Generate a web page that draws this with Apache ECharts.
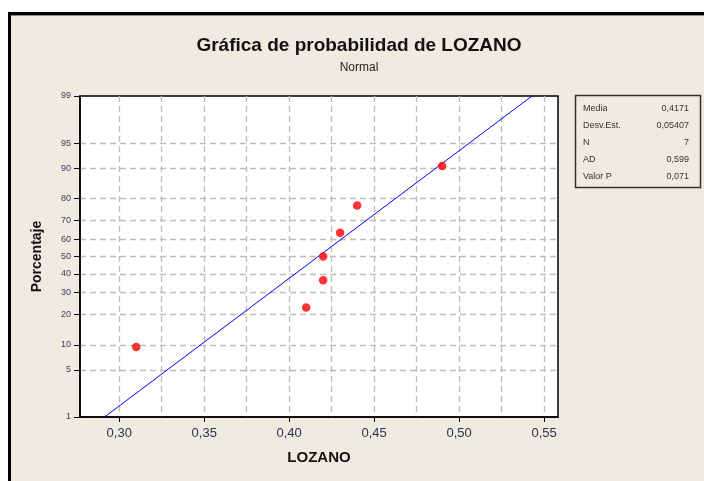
<!DOCTYPE html>
<html>
<head>
<meta charset="utf-8">
<script src="https://cdn.jsdelivr.net/npm/echarts@6/dist/echarts.min.js"></script>
<style>
html,body{margin:0;padding:0;background:#fff;}
#chart{width:704px;height:481px;}
</style>
</head>
<body>
<div id="chart"></div>
<script>
// ---- data ----
var lozano = [0.31, 0.41, 0.42, 0.42, 0.43, 0.44, 0.49];
var percent = [9.5, 23, 36.5, 50, 63.5, 77, 90.5];
var fitX = [0.2913, 0.5429];
var fitP = [1, 99];
var yTicks = [1, 5, 10, 20, 30, 40, 50, 60, 70, 80, 90, 95, 99];
var xTicks = [0.30, 0.35, 0.40, 0.45, 0.50, 0.55];
var xGrid = [0.30, 0.325, 0.35, 0.375, 0.40, 0.425, 0.45, 0.475, 0.50, 0.525, 0.55];
var statNames = ['Media', 'Desv.Est.', 'N', 'AD', 'Valor P'];
var statValues = ['0,4171', '0,05407', '7', '0,599', '0,071'];

// inverse standard normal CDF (probability scale transform)
function probit(p) {
  var a = [-3.969683028665376e+01, 2.209460984245205e+02, -2.759285104469687e+02, 1.383577518672690e+02, -3.066479806614716e+01, 2.506628277459239e+00];
  var b = [-5.447609879822406e+01, 1.615858368580409e+02, -1.556989798598866e+02, 6.680131188771972e+01, -1.328068155288572e+01];
  var c = [-7.784894002430293e-03, -3.223964580411365e-01, -2.400758277161838e+00, -2.549732539343734e+00, 4.374664141464968e+00, 2.938163982698783e+00];
  var d = [7.784695709041462e-03, 3.224671290700398e-01, 2.445134137142996e+00, 3.754408661907416e+00];
  var pl = 0.02425, q, r;
  if (p < pl) {
    q = Math.sqrt(-2 * Math.log(p));
    return (((((c[0]*q+c[1])*q+c[2])*q+c[3])*q+c[4])*q+c[5]) / ((((d[0]*q+d[1])*q+d[2])*q+d[3])*q+1);
  } else if (p <= 1 - pl) {
    q = p - 0.5; r = q*q;
    return (((((a[0]*r+a[1])*r+a[2])*r+a[3])*r+a[4])*r+a[5])*q / (((((b[0]*r+b[1])*r+b[2])*r+b[3])*r+b[4])*r+1);
  } else {
    q = Math.sqrt(-2 * Math.log(1 - p));
    return -(((((c[0]*q+c[1])*q+c[2])*q+c[3])*q+c[4])*q+c[5]) / ((((d[0]*q+d[1])*q+d[2])*q+d[3])*q+1);
  }
}
function z(pct) { return probit(pct / 100); }

var yTickZ = yTicks.map(z);
var yMin = z(yTicks[0]), yMax = z(yTicks[yTicks.length - 1]);
var xMin = 0.2769, xMax = 0.5582;

var points = lozano.map(function (x, i) { return [x, z(percent[i])]; });
var fitLine = fitX.map(function (x, i) { return [x, z(fitP[i])]; });

var font = 'Liberation Sans';
var gridStyle = { color: '#bdbdbd', type: [6, 4], width: 1.3 };

var graphics = [
  { type: 'rect', shape: { x: 0, y: 0, width: 704, height: 12 }, style: { fill: '#fff' }, silent: true },
  { type: 'rect', shape: { x: 0, y: 0, width: 8, height: 481 }, style: { fill: '#fff' }, silent: true },
  { type: 'rect', shape: { x: 8, y: 12, width: 696, height: 3 }, style: { fill: '#000' }, silent: true },
  { type: 'rect', shape: { x: 11, y: 15, width: 693, height: 1 }, style: { fill: '#8a8a8a' }, silent: true },
  { type: 'rect', shape: { x: 8, y: 12, width: 3, height: 469 }, style: { fill: '#000' }, silent: true },
  { type: 'text', x: 359, y: 46, style: { text: 'Gráfica de probabilidad de LOZANO', font: 'bold 19px ' + font, fill: '#111', align: 'center', verticalAlign: 'middle' } },
  { type: 'text', x: 359, y: 68, style: { text: 'Normal', font: '12px ' + font, fill: '#222', align: 'center', verticalAlign: 'middle' } },
  { type: 'rect', shape: { x: 575.5, y: 95.5, width: 125, height: 92 }, style: { fill: 'none', stroke: '#333', lineWidth: 1.5 } }
];
statNames.forEach(function (n, i) {
  graphics.push({ type: 'text', x: 583, y: 109 + i * 17, style: { text: n, font: '9px ' + font, fill: '#333', align: 'left', verticalAlign: 'middle' } });
  graphics.push({ type: 'text', x: 689, y: 109 + i * 17, style: { text: statValues[i], font: '9px ' + font, fill: '#333', align: 'right', verticalAlign: 'middle' } });
});

var chart = echarts.init(document.getElementById('chart'), null, { renderer: 'canvas' });
chart.setOption({
  backgroundColor: '#efebe1',
  animation: false,
  grid: { left: 80, top: 96, right: 146, bottom: 64, show: true, backgroundColor: '#fff', borderColor: '#000', borderWidth: 1.5 },
  xAxis: [
    {
      type: 'value', min: xMin, max: xMax,
      name: 'LOZANO', nameLocation: 'middle', nameGap: 33,
      nameTextStyle: { fontFamily: font, fontWeight: 'bold', fontSize: 15, color: '#111' },
      axisLine: { show: true, onZero: false, lineStyle: { color: '#000', width: 1.5 } },
      axisTick: { show: true, length: 5, customValues: xTicks, lineStyle: { color: '#000' } },
      axisLabel: { customValues: xTicks, margin: 10, fontFamily: font, fontSize: 13, color: '#2a3450',
        formatter: function (v) { return v.toFixed(2).replace('.', ','); } },
      splitLine: { show: false }
    },
    {
      type: 'value', min: xMin, max: xMax, position: 'bottom',
      axisLine: { show: false, onZero: false }, axisLabel: { show: false },
      axisTick: { show: false, customValues: xGrid },
      splitLine: { show: true, showMinLine: true, showMaxLine: true, lineStyle: gridStyle }
    }
  ],
  yAxis: {
    type: 'value', min: yMin, max: yMax,
    name: 'Porcentaje', nameLocation: 'middle', nameGap: 36,
    nameTextStyle: { fontFamily: font, fontWeight: 'bold', fontSize: 14, color: '#111' },
    axisLine: { show: true, onZero: false, lineStyle: { color: '#000', width: 1.5 } },
    axisTick: { show: true, length: 6, customValues: yTickZ, lineStyle: { color: '#000' } },
    axisLabel: { customValues: yTickZ, margin: 9, fontFamily: font, fontSize: 9, color: '#3a4060',
      formatter: function (v) {
        var best = 0, bd = 1e9;
        yTickZ.forEach(function (t, i) { var d = Math.abs(t - v); if (d < bd) { bd = d; best = i; } });
        return String(yTicks[best]);
      } },
    splitLine: { show: true, showMinLine: false, showMaxLine: false, lineStyle: gridStyle }
  },
  graphic: graphics,
  series: [
    { type: 'line', data: fitLine, symbol: 'none', lineStyle: { color: '#0000ff', width: 1 }, z: 3 },
    { type: 'scatter', data: points, symbol: 'circle', symbolSize: 8.5, itemStyle: { color: '#ff0000' }, z: 4 }
  ]
});
</script>
</body>
</html>
